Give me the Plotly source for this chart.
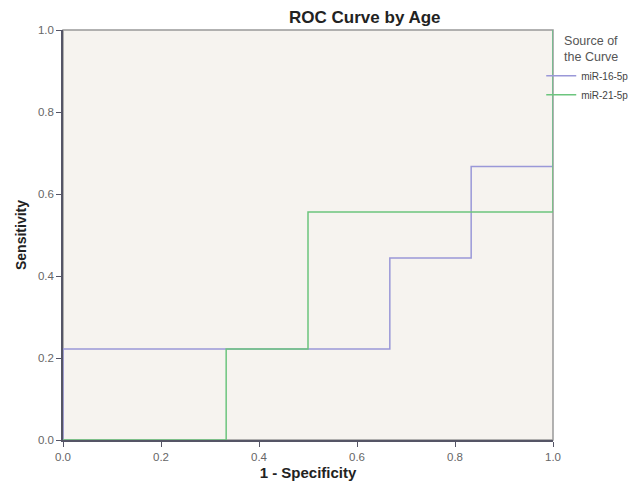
import plotly.graph_objects as go

# ROC step coordinates (1 - Specificity, Sensitivity)
mir16_fpr = [0.0, 0.0, 0.667, 0.667, 0.833, 0.833, 1.0, 1.0]
mir16_tpr = [0.0, 0.222, 0.222, 0.444, 0.444, 0.667, 0.667, 1.0]
mir21_fpr = [0.0, 0.333, 0.333, 0.5, 0.5, 1.0, 1.0]
mir21_tpr = [0.0, 0.0, 0.222, 0.222, 0.556, 0.556, 1.0]
series_names = ["miR-16-5p", "miR-21-5p"]
tick_vals = [0.0, 0.2, 0.4, 0.6, 0.8, 1.0]
tick_text = ["0.0", "0.2", "0.4", "0.6", "0.8", "1.0"]

fig = go.Figure()
fig.add_trace(go.Scatter(x=mir16_fpr, y=mir16_tpr, mode="lines", name=series_names[0],
                         cliponaxis=False, line=dict(color="#9a98d8", width=1.5)))
fig.add_trace(go.Scatter(x=mir21_fpr, y=mir21_tpr, mode="lines", name=series_names[1],
                         cliponaxis=False, line=dict(color="#6cc57e", width=1.5)))

axis_common = dict(range=[0, 1], tickvals=tick_vals, ticktext=tick_text,
                   ticks="outside", ticklen=5, tickcolor="#555566",
                   showline=True, linecolor="#555566", linewidth=1.5,
                   showgrid=False, zeroline=False,
                   tickfont=dict(family="Liberation Sans, Arial", size=11.5, color="#666666"))

fig.update_layout(
    width=633, height=481,
    margin=dict(l=55, r=88, t=22, b=49, autoexpand=False),
    paper_bgcolor="white", plot_bgcolor="#f6f3ef",
    title=dict(text="<b>ROC Curve by Age</b>", xref="paper", x=0.616, xanchor="center",
               y=0.981, yanchor="middle",
               font=dict(family="Liberation Sans, Arial", size=17, color="#222222")),
    xaxis=dict(**axis_common,
               title=dict(text="<b>1 - Specificity</b>", standoff=6,
                          font=dict(family="Liberation Sans, Arial", size=15, color="#222222"))),
    yaxis=dict(**axis_common,
               title=dict(text="<b>Sensitivity</b>", standoff=8,
                          font=dict(family="Liberation Sans, Arial", size=14, color="#222222"))),
    legend=dict(x=0.976, xanchor="left", y=1.003, yanchor="top",
                title=dict(text="      Source of<br>      the Curve", font=dict(family="Liberation Sans, Arial", size=12.5, color="#555555")),
                font=dict(family="Liberation Sans, Arial", size=10, color="#444444"),
                bgcolor="rgba(0,0,0,0)", itemwidth=30, tracegroupgap=0),
    showlegend=True,
)

# plot frame (top and right borders)
fig.add_shape(type="rect", xref="paper", yref="paper", x0=0, y0=0, x1=1, y1=1,
              line=dict(color="#999999", width=1.5), layer="below")

fig.write_html("out.html")
